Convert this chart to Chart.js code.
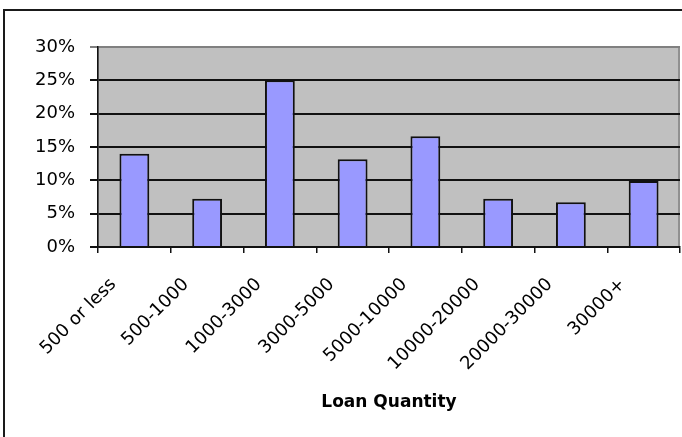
<!DOCTYPE html>
<html>
<head>
<meta charset="utf-8">
<script src="https://cdn.jsdelivr.net/npm/chart.js@4/dist/chart.umd.min.js"></script>
<style>
  html, body { margin: 0; padding: 0; background: #fff; overflow: hidden; }
  #wrap { width: 682px; height: 437px; position: relative; }
</style>
</head>
<body>
<div id="wrap"><canvas id="c" width="682" height="437"></canvas></div>
<script>
// Loan size buckets and share of loans in each (percent)
const categories = ['500 or less', '500-1000', '1000-3000', '3000-5000', '5000-10000', '10000-20000', '20000-30000', '30000+'];
const shares = [14.0, 7.25, 25.0, 13.15, 16.6, 7.25, 6.7, 9.9];
const yTicks = [0, 5, 10, 15, 20, 25, 30];
const xTitle = 'Loan Quantity';

const FONT = "'DejaVu Sans', Verdana, sans-serif";

// Gray plot background, plot-area frame and the outer chart frame
const framePlugin = {
  id: 'frames',
  beforeDraw(chart) {
    const { ctx, chartArea: a } = chart;
    ctx.save();
    ctx.fillStyle = '#c0c0c0';
    ctx.fillRect(a.left, a.top, a.right - a.left, a.bottom - a.top);
    ctx.strokeStyle = '#808080';
    ctx.lineWidth = 1.5;
    ctx.strokeRect(a.left, a.top, a.right - a.left - 1, a.bottom - a.top);
    ctx.strokeStyle = '#1a1a1a';
    ctx.lineWidth = 2;
    ctx.strokeRect(4, 10, 900, 700);
    ctx.restore();
  }
};

new Chart(document.getElementById('c'), {
  type: 'bar',
  data: {
    labels: categories,
    datasets: [{
      data: shares,
      backgroundColor: '#9999ff',
      borderColor: '#111',
      borderWidth: 2,
      barPercentage: 0.41,
      categoryPercentage: 1.0
    }]
  },
  options: {
    responsive: false,
    animation: false,
    devicePixelRatio: 1,
    layout: { padding: { left: 0, top: 47, right: 2, bottom: 0 } },
    plugins: { legend: { display: false }, tooltip: { enabled: false }, title: { display: false } },
    scales: {
      x: {
        grid: {
          offset: true,
          drawOnChartArea: false,
          drawTicks: true,
          tickLength: 6,
          color: '#111',
          lineWidth: 1.5
        },
        border: { color: '#111', width: 1.5 },
        ticks: {
          autoSkip: false,
          minRotation: 45,
          maxRotation: 45,
          padding: 21,
          labelOffset: -21,
          color: '#000',
          font: { family: FONT, size: 18 }
        },
        title: {
          display: true,
          text: xTitle,
          color: '#000',
          font: { family: FONT, size: 17, weight: 'bold' },
          padding: { top: 0, bottom: 24 }
        },
        afterFit(scale) { scale.height = 190; }
      },
      y: {
        min: 0,
        max: 30,
        afterBuildTicks(scale) { scale.ticks = yTicks.map(v => ({ value: v })); },
        grid: {
          color: ctx => (ctx.tick && ctx.tick.value === 30 ? '#808080' : '#111'),
          lineWidth: 2,
          drawTicks: true,
          tickLength: 8
        },
        border: { color: '#111', width: 1.5 },
        ticks: {
          padding: 15,
          color: '#000',
          font: { family: FONT, size: 18 },
          callback: v => v + '%'
        },
        afterFit(scale) { scale.width = 98; }
      }
    }
  },
  plugins: [framePlugin]
});
</script>
</body>
</html>
